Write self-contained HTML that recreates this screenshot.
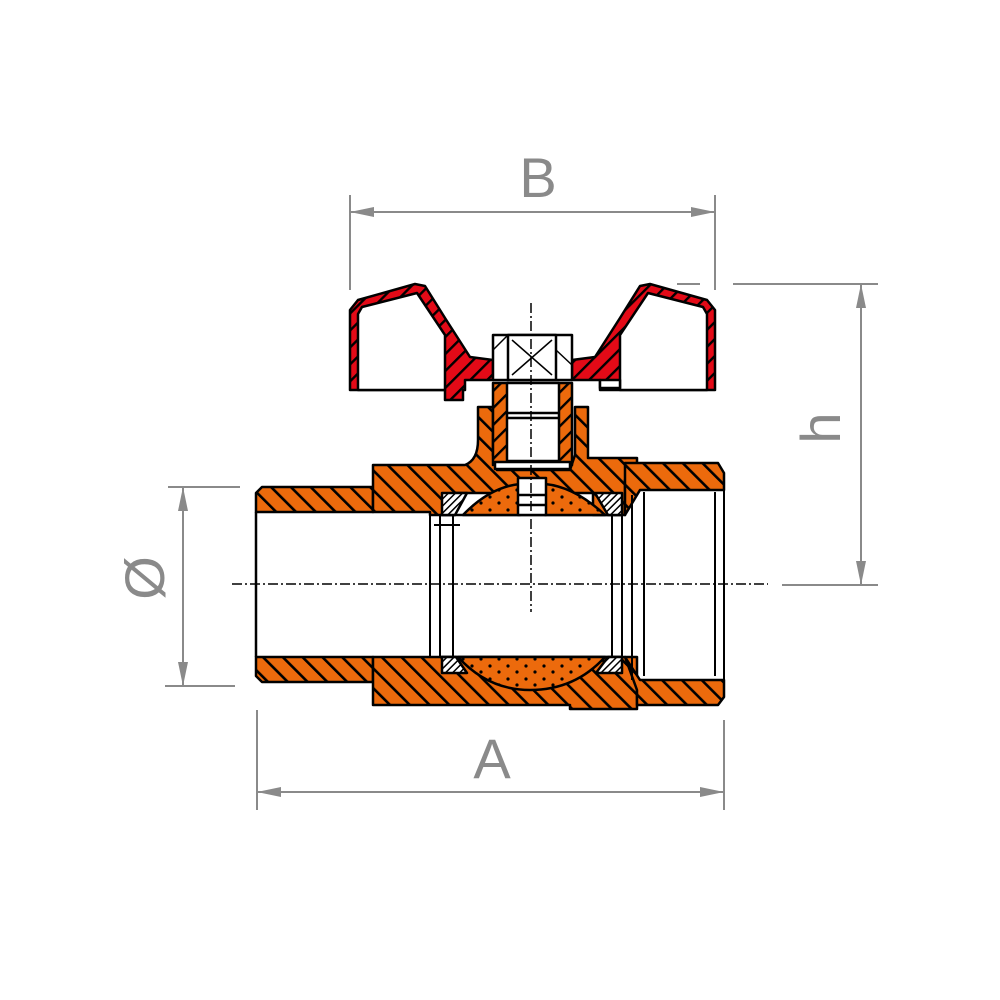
<!DOCTYPE html>
<html><head><meta charset="utf-8"><style>html,body{margin:0;padding:0;background:#fff}svg{display:block}</style></head>
<body>
<svg width="1000" height="1000" viewBox="0 0 1000 1000" xmlns="http://www.w3.org/2000/svg">
<defs>
<pattern id="ho" patternUnits="userSpaceOnUse" width="14" height="14" patternTransform="rotate(-45)">
<rect width="14" height="14" fill="#EC6A0C"/><rect x="0" y="0" width="2.6" height="14" fill="#000"/></pattern>
<pattern id="ho2" patternUnits="userSpaceOnUse" width="12" height="12" patternTransform="rotate(45)">
<rect width="12" height="12" fill="#EC6A0C"/><rect x="0" y="0" width="2.4" height="12" fill="#000"/></pattern>
<pattern id="hr" patternUnits="userSpaceOnUse" width="12" height="12" patternTransform="rotate(45)">
<rect width="12" height="12" fill="#E30A17"/><rect x="0" y="0" width="2.4" height="12" fill="#000"/></pattern>
<pattern id="hw" patternUnits="userSpaceOnUse" width="5" height="5" patternTransform="rotate(45)">
<rect width="5" height="5" fill="#fff"/><rect x="0" y="0" width="1.5" height="5" fill="#000"/></pattern>
<pattern id="dots" patternUnits="userSpaceOnUse" width="18" height="13">
<rect width="18" height="13" fill="#EC6A0C"/><circle cx="4" cy="3" r="1.6" fill="#000"/><circle cx="13" cy="9" r="1.6" fill="#000"/></pattern>
</defs>
<g stroke="#000" stroke-width="2.5" stroke-linejoin="round">
<!-- left pipe -->
<polygon points="262,487 373,487 373,512 256,512 256,493" fill="url(#ho)"/>
<polygon points="256,657 373,657 373,682 262,682 256,676" fill="url(#ho)"/>
<!-- body top -->
<path d="M373,465 L465,465 Q478,460 478,440 L478,407 L493,407 L493,455 L497,470 L570,470 L575,455 L575,407 L588,407 L588,458 L637,458 L637,470 L625,480 L625,515 L593,515 L593,493 L455,493 L455,515 L430,515 L430,512 L373,512 Z" fill="url(#ho)"/>
<!-- body bottom -->
<path d="M373,657 L637,657 L637,709 L570,709 L570,705 L373,705 Z" fill="url(#ho)"/>
<!-- right end -->
<polygon points="625,463 718,463 724,473 724,490 640,490 625,515" fill="url(#ho)"/>
<polygon points="625,657 640,680 724,680 724,697 718,705 637,705 637,690" fill="url(#ho)"/>
<!-- bore lines -->
<line x1="256" y1="512" x2="256" y2="657"/>
<line x1="430" y1="512" x2="430" y2="657" stroke-width="2"/>
<line x1="440" y1="515" x2="440" y2="657" stroke-width="2"/>
<line x1="453" y1="515" x2="453" y2="657" stroke-width="2"/>
<line x1="612" y1="515" x2="612" y2="657" stroke-width="2"/>
<line x1="622" y1="515" x2="622" y2="657" stroke-width="2"/>
<line x1="632" y1="495" x2="632" y2="680" stroke-width="2"/>
<line x1="644" y1="492" x2="644" y2="676" stroke-width="2"/>
<line x1="715" y1="492" x2="715" y2="676" stroke-width="2"/>
<line x1="724" y1="490" x2="724" y2="680" stroke-width="2"/>
<line x1="440" y1="515" x2="622" y2="515"/>
<line x1="440" y1="657" x2="622" y2="657"/>
<line x1="434" y1="525" x2="460" y2="525" stroke-width="2"/>
<!-- ball caps -->
<path d="M463,515 Q490,487 520,484 L520,515 Z M545,484 Q575,487 605,515 L545,515 Z" fill="url(#dots)"/>
<path d="M458,657 L605,657 Q575,690 530,690 Q488,690 458,657 Z" fill="url(#dots)"/>
<!-- seats -->
<polygon points="442,493 467,493 455,515 442,515" fill="url(#hw)"/>
<polygon points="595,493 622,493 622,515 608,515" fill="url(#hw)"/>
<polygon points="442,657 456,657 467,673 442,673" fill="url(#hw)"/>
<polygon points="608,657 622,657 622,673 596,673" fill="url(#hw)"/>
<!-- stem -->
<rect x="493" y="383" width="15" height="82" fill="url(#ho2)"/>
<rect x="557" y="383" width="15" height="82" fill="url(#ho2)"/>
<rect x="507" y="383" width="52" height="78" fill="#fff"/>
<line x1="507" y1="413" x2="559" y2="413"/><line x1="507" y1="418" x2="559" y2="418"/>
<rect x="495" y="462" width="75" height="7" fill="#fff"/>
<rect x="518" y="478" width="28" height="37" fill="#fff"/>
<line x1="518" y1="495" x2="546" y2="495"/><line x1="518" y1="505" x2="546" y2="505"/>
<!-- handle -->
<path d="M350,390 L350,310 L358,300 L415,284 L425,286 L445,318 L470,357 L493,360 L493,380 L465,380 L465,390 L463,390 L463,400 L445,400 L445,390 Z" fill="url(#hr)"/>
<path d="M358,390 L358,314 L362,307 L417,293 L445,335 L445,390 Z" fill="#fff"/>
<path d="M715,390 L715,310 L707,300 L650,284 L640,286 L620,318 L595,357 L572,360 L572,380 L600,380 L600,390 L620,390 Z" fill="url(#hr)"/>
<path d="M707,390 L707,314 L703,307 L648,293 L620,335 L620,390 Z" fill="#fff"/>
<rect x="600" y="380" width="20" height="8" fill="#fff"/>
<!-- nut -->
<polygon points="493,335 572,335 572,360 572,380 493,380 493,335" fill="#fff"/>
<rect x="508" y="335" width="48" height="45" fill="#fff"/>
<path d="M512,340 L552,375 M552,340 L512,375" stroke-width="1.5"/>
<line x1="493" y1="350" x2="508" y2="335" stroke-width="1.5"/><line x1="556" y1="350" x2="572" y2="365" stroke-width="1.5"/>
</g>
<!-- center lines -->
<g stroke="#000" stroke-width="1.5" stroke-dasharray="10,3,2,3" fill="none">
<line x1="232" y1="584" x2="768" y2="584"/>
<line x1="531" y1="303" x2="531" y2="612"/>
</g>
<!-- dimensions -->
<g stroke="#8a8a8a" stroke-width="2" fill="#8a8a8a">
<line x1="350" y1="195" x2="350" y2="290"/><line x1="715" y1="195" x2="715" y2="290"/>
<line x1="350" y1="212" x2="715" y2="212"/>
<polygon points="350,212 374,207 374,217" stroke="none"/><polygon points="715,212 691,207 691,217" stroke="none"/>
<line x1="733" y1="284" x2="878" y2="284"/><line x1="677" y1="284" x2="700" y2="284"/>
<line x1="782" y1="585" x2="878" y2="585"/>
<line x1="861" y1="284" x2="861" y2="585"/>
<polygon points="861,284 856,308 866,308" stroke="none"/><polygon points="861,585 856,561 866,561" stroke="none"/>
<line x1="168" y1="487" x2="240" y2="487"/><line x1="165" y1="686" x2="235" y2="686"/>
<line x1="183" y1="487" x2="183" y2="686"/>
<polygon points="183,487 178,511 188,511" stroke="none"/><polygon points="183,686 178,662 188,662" stroke="none"/>
<line x1="257" y1="710" x2="257" y2="810"/><line x1="724" y1="720" x2="724" y2="810"/>
<line x1="257" y1="792" x2="724" y2="792"/>
<polygon points="257,792 281,787 281,797" stroke="none"/><polygon points="724,792 700,787 700,797" stroke="none"/>
</g>
<g fill="#8a8a8a" font-family="Liberation Sans, sans-serif" font-size="56">
<text x="538" y="197" text-anchor="middle">B</text>
<text x="492" y="778" text-anchor="middle">A</text>
<text transform="translate(840,428) rotate(-90)" text-anchor="middle">h</text>
<text transform="translate(164,578) rotate(-90)" text-anchor="middle">Ø</text>
</g>
</svg>
</body></html>
